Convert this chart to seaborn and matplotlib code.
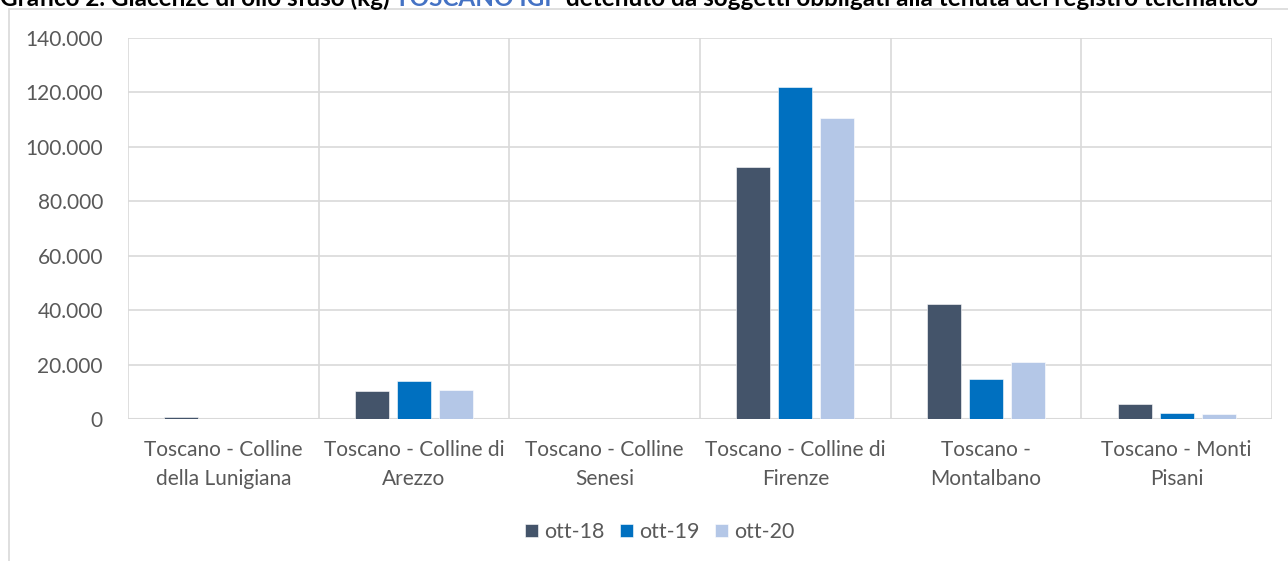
import matplotlib
matplotlib.use("Agg")
import matplotlib.pyplot as plt
import matplotlib.patches as patches
from matplotlib.ticker import FuncFormatter
import pandas as pd
import seaborn as sns

categories = [
    "Toscano - Colline\ndella Lunigiana",
    "Toscano - Colline di\nArezzo",
    "Toscano - Colline\nSenesi",
    "Toscano - Colline di\nFirenze",
    "Toscano -\nMontalbano",
    "Toscano - Monti\nPisani",
]
periods = ["ott-18", "ott-19", "ott-20"]
ott_18 = [600, 10300, 0, 92600, 42200, 5400]
ott_19 = [0, 14000, 0, 121900, 14600, 2100]
ott_20 = [0, 10500, 0, 110500, 20800, 2000]
colors = ["#44546A", "#0070C0", "#B4C7E7"]

rows = []
for period, vals in zip(periods, [ott_18, ott_19, ott_20]):
    for cat, v in zip(categories, vals):
        rows.append({"categoria": cat, "periodo": period, "kg": v})
df = pd.DataFrame(rows)

sns.set_style("white")
plt.rcParams["font.family"] = ["Lato", "DejaVu Sans"]

fig = plt.figure(figsize=(12.88, 5.61), dpi=100)
ax = fig.add_axes([128 / 1288, 1 - 419 / 561, (1272 - 128) / 1288, (419 - 38) / 561])

# outer chart frame
fig.patches.append(patches.Rectangle((9 / 1288, -0.1), 1.2, 1.1 - 9.5 / 561,
                                     transform=fig.transFigure, fill=False,
                                     edgecolor="#D9D9D9", linewidth=1.2))

sns.barplot(data=df, x="categoria", y="kg", hue="periodo", palette=colors,
            width=0.66, gap=0.19, ax=ax, saturation=1, legend=True,
            edgecolor="white", linewidth=0.4)

ax.set_ylim(0, 140000)
ax.set_xlim(-0.5, len(categories) - 0.5)
ax.set_yticks(range(0, 140001, 20000))
ax.yaxis.set_major_formatter(FuncFormatter(lambda v, p: f"{int(v):,}".replace(",", ".")))
ax.set_xlabel("")
ax.set_ylabel("")
ax.set_axisbelow(True)
ax.yaxis.grid(True, color="#D9D9D9", linewidth=1.2)
for b in range(len(categories) + 1):
    ax.axvline(b - 0.5, color="#D9D9D9", linewidth=1.2, zorder=0)
for s in ax.spines.values():
    s.set_visible(False)
ax.axhline(0, color="#D9D9D9", linewidth=1.5, zorder=0.5)
ax.tick_params(axis="both", length=0, labelsize=15, colors="#595959")
ax.tick_params(axis="x", pad=15)
ax.tick_params(axis="y", pad=18)
for lbl in ax.get_xticklabels():
    lbl.set_linespacing(1.6)

leg = fig.legend(*ax.get_legend_handles_labels(), loc="center",
                 bbox_to_anchor=(660 / 1288, 1 - 532 / 561), ncol=3, frameon=False,
                 fontsize=15.5, handlelength=0.6, handleheight=0.6,
                 handletextpad=0.3, columnspacing=0.7)
ax.get_legend().remove()
for t in leg.get_texts():
    t.set_color("#595959")

# title, partially cut at the top as in the source image
title_parts = [
    ("Grafico 2. Giacenze di olio sfuso (kg) ", "black"),
    ("TOSCANO IGP", "#4472C4"),
    (" detenuto da soggetti obbligati alla tenuta del registro telematico", "black"),
]
fig.canvas.draw()
renderer = fig.canvas.get_renderer()
x = 0.0
for txt, col in title_parts:
    t = fig.text(x, 1 - 5.5 / 561, txt, color=col, fontsize=17.5, fontweight="bold",
                 va="baseline", ha="left")
    bb = t.get_window_extent(renderer=renderer)
    x += bb.width / fig.bbox.width

fig.savefig("out.png", dpi=100)
